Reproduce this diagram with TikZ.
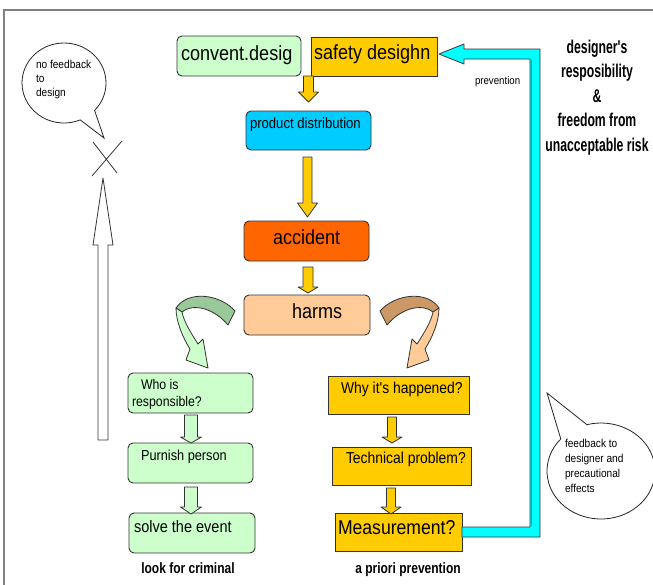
\documentclass[tikz,border=0pt]{standalone}
\usepackage{fontspec}
\setmainfont{Liberation Sans}
\newfontfamily\nf[FakeStretch=0.88]{Liberation Sans}
\newfontfamily\bnf[FakeStretch=0.8]{Liberation Sans}
\newfontfamily\rnf[FakeStretch=0.66]{Liberation Sans}
\usetikzlibrary{shapes.callouts}

\definecolor{lgreen}{HTML}{CCFFCC}
\definecolor{dgreen}{HTML}{99C899}
\definecolor{gold}{HTML}{FFCC00}
\definecolor{sky}{HTML}{00CCFF}
\definecolor{accred}{HTML}{FF6600}
\definecolor{peach}{HTML}{FFCC99}
\definecolor{tan}{HTML}{CC9966}
\definecolor{aqua}{HTML}{00FFFF}
\definecolor{edge}{HTML}{333333}

\newcommand\setfs[1]{\fontsize{#1}{#1}\selectfont}

% downward block arrow: style, x centre, y top, y head base, y tip, shaft half width, head half width
\newcommand\blockdown[7]{%
  \draw[#1] ({#2-#6},#3) -- ({#2+#6},#3) -- ({#2+#6},#4) -- ({#2+#7},#4)
    -- (#2,#5) -- ({#2-#7},#4) -- ({#2-#6},#4) -- cycle;}

% twisted curved arrow leaving the harms box: back face, then front face with head
\newcommand\curvedarrow[2]{%
  \draw[outline, fill=#1] (235,311) .. controls (220,294) and (188,290) .. (176,308)
    -- (182,312) .. controls (191,304) and (212,306) .. (228,325) -- cycle;
  \draw[outline, fill=#2] (176,308) .. controls (176,322) and (183,338) .. (190,349)
    -- (186,360) -- (208,368) -- (203,339) -- (198,344)
    .. controls (191,333) and (184,322) .. (182,312) -- cycle;}

\begin{document}
\begin{tikzpicture}[x=1pt,y=-1pt,
  outline/.style={draw=edge, line width=0.8pt, line join=round},
  rbox/.style={draw=edge, line width=0.9pt, rounded corners=5pt, inner sep=0pt, outer sep=0pt},
  sbox/.style={draw=edge, line width=0.9pt, inner sep=0pt, outer sep=0pt},
  yarrow/.style={outline, fill=gold},
  garrow/.style={outline, fill=lgreen},
  txt/.style={inner sep=0pt, outer sep=0pt, anchor=base west, font=\nf},
  bubble/.style={ellipse callout, draw=black!85, fill=white, line width=0.8pt, inner sep=0pt}]

\useasboundingbox (0,0) rectangle (653,584);
\fill[white] (0,0) rectangle (653,584);

% outer frame
\draw[gray, line width=2pt] (4,590) -- (4,10) -- (660,10);

% boxes of the main chain
\node[rbox, fill=lgreen, minimum width=124, minimum height=40] (conv) at (239,56) {};
\node[sbox, fill=gold, minimum width=126, minimum height=39] (safety) at (374,56.5) {};
\node[rbox, fill=sky, minimum width=125, minimum height=39] (prod) at (308.5,130.5) {};
\node[rbox, fill=accred, minimum width=125, minimum height=40] (acc) at (306.5,241) {};
\node[rbox, fill=peach, minimum width=126, minimum height=40] (harms) at (307,315) {};

% left branch
\node[rbox, fill=lgreen, minimum width=125, minimum height=40] (who) at (190.5,393) {};
\node[rbox, fill=lgreen, minimum width=125, minimum height=40] (pun) at (190.5,463) {};
\node[rbox, fill=lgreen, minimum width=126, minimum height=40] (solve) at (192,533) {};

% right branch
\node[sbox, fill=gold, minimum width=141, minimum height=38] (why) at (398.5,395) {};
\node[sbox, fill=gold, minimum width=139, minimum height=38] (tech) at (401.5,466) {};
\node[sbox, fill=gold, minimum width=127, minimum height=38] (meas) at (398.5,532) {};

% box texts
\node[txt, font=\nf\setfs{20.5}] (conv-t) at (181,60) {convent.desig};
\node[txt, font=\nf\setfs{20.5}] (safety-t) at (314,59) {safety desighn};
\node[txt, font=\nf\setfs{14.9}] (prod-t) at (250,128) {product distribution};
\node[txt, font=\nf\setfs{20.5}] (acc-t) at (273,244) {accident};
\node[txt, font=\nf\setfs{20.5}] (harms-t) at (292,318) {harms};
\node[txt, font=\nf\setfs{14}] (who-t1) at (141,389) {Who is};
\node[txt, font=\nf\setfs{14}] (who-t2) at (132,406) {responsible?};
\node[txt, font=\nf\setfs{14.5}] (pun-t) at (141,460) {Purnish person};
\node[txt, font=\nf\setfs{16.5}] (solve-t) at (134,532) {solve the event};
\node[txt, font=\nf\setfs{15.8}] (why-t) at (341,393) {Why it's happened?};
\node[txt, font=\nf\setfs{15.8}] (tech-t) at (346,463) {Technical problem?};
\node[txt, font=\nf\setfs{20}] (meas-t) at (338,534) {Measurement?};

% block arrows
\blockdown{yarrow}{308.5}{76}{92}{102}{5}{10}
\blockdown{yarrow}{307.5}{157}{203}{217}{4.5}{10}
\blockdown{yarrow}{308}{267}{287}{293}{5}{10}
\blockdown{garrow}{191}{415}{437}{443}{6.5}{10.5}
\blockdown{garrow}{191}{487}{507}{514}{6.5}{10.5}
\blockdown{yarrow}{392}{417}{437}{443}{4.5}{10}
\blockdown{yarrow}{391}{488}{507}{514}{4.5}{10}

% curved arrows out of harms
\curvedarrow{dgreen}{lgreen}
\begin{scope}[xshift=615pt, xscale=-1]
  \curvedarrow{tan}{peach}
\end{scope}

% feedback band from measurement back to safety design
\draw[outline, fill=aqua] (462,527) -- (530,527) -- (530,59) -- (464,59) -- (464,64)
  -- (439,54) -- (464,44) -- (464,49) -- (540,49) -- (540,537) -- (462,537) -- cycle;
\draw[gray, line width=1.5pt] (531.5,60) -- (531.5,526);
\node[txt, font=\nf\setfs{11}] (prev-t) at (475,84) {prevention};

% hollow arrow on the left, blocked by a cross
\draw[outline, fill=white] (98,440) -- (98,245) -- (93,245) -- (103,178) -- (113,245)
  -- (108,245) -- (108,440) -- cycle;
\draw[edge, line width=0.8pt] (92,176) -- (122,141) (93,142) -- (117,173);

% speech bubbles
\node[bubble, minimum width=84, minimum height=80, callout absolute pointer={(104,138)},
  callout pointer arc=24] (nofb) at (64,83) {};
\node[txt, font=\nf\setfs{11.5}] (nofb-1) at (36,68) {no feedback};
\node[txt, font=\nf\setfs{11.5}] (nofb-2) at (36,82) {to};
\node[txt, font=\nf\setfs{11.5}] (nofb-3) at (36,96) {design};

\node[bubble, minimum width=108, minimum height=96, callout absolute pointer={(547,393)},
  callout pointer arc=33] (fb) at (601,471) {};
\node[txt, font=\nf\setfs{11.5}] (fb-1) at (565,447) {feedback to};
\node[txt, font=\nf\setfs{11.5}] (fb-2) at (565,462) {designer and};
\node[txt, font=\nf\setfs{11.5}] (fb-3) at (565,477) {precautional};
\node[txt, font=\nf\setfs{11.5}] (fb-4) at (565,492) {effects};

% headline on the right
\foreach \t [count=\i] in {designer's, resposibility, \&, freedom from, unacceptable risk}
  \node[inner sep=0pt, anchor=base, font=\rnf\bfseries\setfs{18.5}] (head-\i) at (597,{53+24.5*(\i-1)}) {\t};

% branch captions
\node[inner sep=0pt, anchor=base, font=\bnf\bfseries\setfs{15}] (crim-t) at (188,573) {look for criminal};
\node[inner sep=0pt, anchor=base, font=\bnf\bfseries\setfs{15}] (prio-t) at (408,573) {a priori prevention};

\end{tikzpicture}
\end{document}
